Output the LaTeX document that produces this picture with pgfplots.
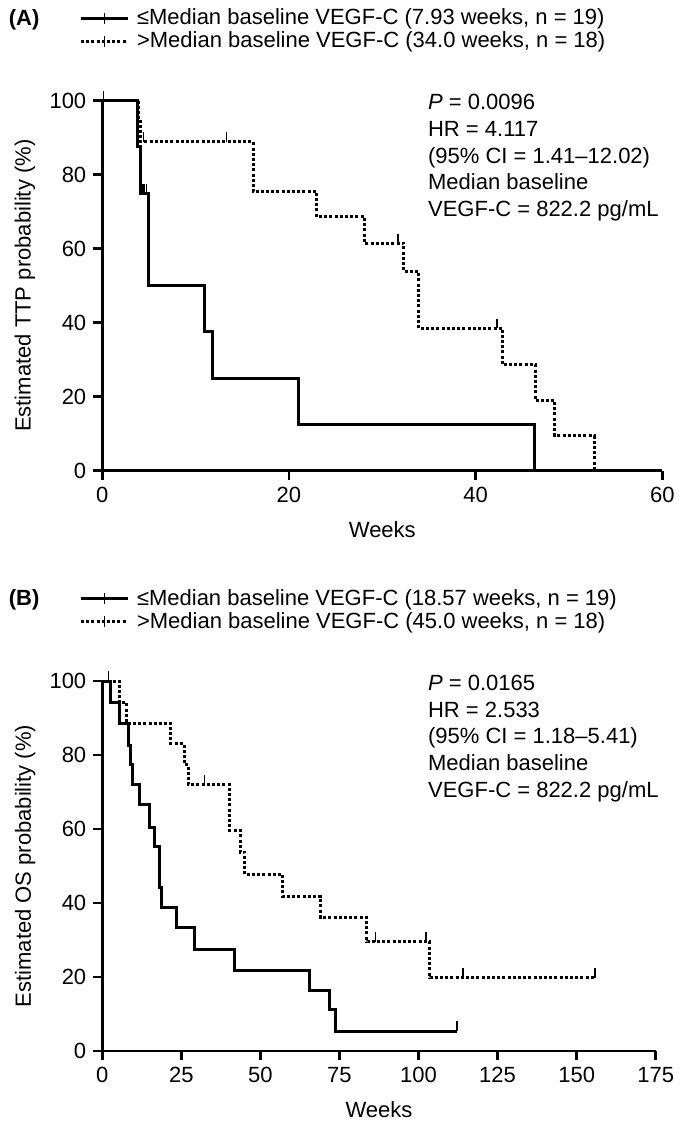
\documentclass[border=0pt]{standalone}
\usepackage{fontspec}
\setmainfont{Liberation Sans}
\usepackage{pgfplots}
\pgfplotsset{compat=1.18}
\newcommand\fs{\fontsize{11}{13.3}\selectfont}
\pgfdeclareplotmark{cens}{\pgfpathmoveto{\pgfpoint{0pt}{0pt}}\pgfpathlineto{\pgfpoint{0pt}{4.8pt}}\pgfusepathqstroke}
\pgfplotsset{
  kmaxis/.style={
    scale only axis, height=185pt,
    axis lines=left, axis line style={line width=1.4pt,-},
    tick style={line width=1.4pt, black}, major tick length=4.5pt, tick align=outside,
    ymin=0, ymax=100, xmin=0, ytick={0,20,...,100},
    /pgf/number format/assume math mode=true,
    tick label style={font=\fs},
    label style={font=\fs},
    clip=false,
    xlabel style={at={(axis description cs:0.5,0)}, anchor=center, yshift=-29.5pt},
    legend cell align=left,
    legend style={draw=none, fill=none, font=\fs, inner sep=0pt, row sep=0pt,
      column sep=3pt, nodes={inner sep=1pt}, anchor=north west},
    legend image code/.code={
      \draw[#1] (0pt,0pt) -- (23.3pt,0pt);
      \draw[solid, line width=0.7pt] (11.65pt,-2.6pt) -- (11.65pt,2.6pt);
    },
  },
  solidkm/.style={black, line width=1.5pt, const plot, mark=none},
  dotkm/.style={black, line width=1.5pt, const plot, mark=none, dash pattern=on 1.5pt off 1.1pt},
  censm/.style={black, only marks, mark=cens, mark options={solid, line width=0.7pt}, forget plot},
}
\begin{document}
\begin{tikzpicture}[font=\fs]
\useasboundingbox (0,0) rectangle (342.5pt,-564pt);
% ---------------- Panel A ----------------
\node[anchor=base west, inner sep=0, font=\fs\bfseries] at (4.2pt,-12.7pt) {(A)};
\begin{axis}[kmaxis, at={(51.15pt,-235.35pt)}, anchor=south west, width=280pt,
  xmax=60, xtick={0,20,40,60},
  xlabel={Weeks}, ylabel={Estimated TTP probability (\%)},
  ylabel style={at={(axis description cs:-0.138,0.5)}, anchor=center},
  legend style={at={(-0.0416,1.2546)}}]
\addplot[solidkm] coordinates {(0,100)(3.8,87.5)(4.1,75)(5.0,50)(10.9,37.5)(11.8,25)(21.0,12.5)(46.3,0)};
\addlegendentry{≤Median baseline VEGF-C (7.93 weeks, n = 19)}
\addplot[dotkm] coordinates {(0,100)(3.9,94.4)(4.1,88.9)(16.15,75.4)(23.0,68.6)(28.1,61.5)(32.3,53.8)(33.9,38.5)(42.9,28.6)(46.4,19.0)(48.5,9.4)(52.7,0)};
\addlegendentry{>Median baseline VEGF-C (34.0 weeks, n = 18)}
\addplot[censm] coordinates {(0.15,100)(4.35,75)(4.55,75)(4.75,75)};
\addplot[censm] coordinates {(4.4,88.9)(13.3,88.9)(31.7,61.5)(42.3,38.5)};
\end{axis}
\node[anchor=base west, inner sep=0] at (213.85pt,-55pt) {\textit{P} = 0.0096};
\node[anchor=base west, inner sep=0] at (213.85pt,-68.3pt) {HR = 4.117};
\node[anchor=base west, inner sep=0] at (213.85pt,-81.6pt) {(95\% CI = 1.41–12.02)};
\node[anchor=base west, inner sep=0] at (213.85pt,-94.9pt) {Median baseline};
\node[anchor=base west, inner sep=0] at (213.85pt,-108.2pt) {VEGF-C = 822.2 pg/mL};
% ---------------- Panel B ----------------
\node[anchor=base west, inner sep=0, font=\fs\bfseries] at (4.2pt,-302.85pt) {(B)};
\begin{axis}[kmaxis, at={(51.15pt,-525.5pt)}, anchor=south west, width=276.7pt,
  xmax=175, xtick={0,25,...,175},
  xlabel={Weeks}, ylabel={Estimated OS probability (\%)},
  ylabel style={at={(axis description cs:-0.1395,0.5)}, anchor=center},
  legend style={at={(-0.0421,1.2546)}}]
\addplot[solidkm] coordinates {(0,100)(2.6,94.2)(5.4,88.4)(8.2,82.7)(9.0,77.4)(9.6,72.0)(11.9,66.6)(14.9,60.5)(16.5,55.3)(18.2,44.1)(18.8,38.7)(23.5,33.3)(29.3,27.5)(41.8,21.8)(65.4,16.4)(72.0,11.3)(73.7,5.4)(112.2,5.4)};
\addlegendentry{≤Median baseline VEGF-C (18.57 weeks, n = 19)}
\addplot[dotkm] coordinates {(0,100)(5.4,94.2)(7.7,88.6)(21.7,83.0)(25.9,77.4)(27.2,72.0)(40.2,59.6)(43.6,53.7)(45.1,47.7)(57.1,41.7)(69.1,36.0)(83.6,29.5)(103.5,19.8)(155.8,19.8)};
\addlegendentry{>Median baseline VEGF-C (45.0 weeks, n = 18)}
\addplot[censm] coordinates {(1.9,100)(112.2,5.4)};
\addplot[censm] coordinates {(32.3,72.0)(86.3,29.5)(102.4,29.5)(114.0,19.8)(155.8,19.8)};
\end{axis}
\node[anchor=base west, inner sep=0] at (213.85pt,-345.35pt) {\textit{P} = 0.0165};
\node[anchor=base west, inner sep=0] at (213.85pt,-358.65pt) {HR = 2.533};
\node[anchor=base west, inner sep=0] at (213.85pt,-371.95pt) {(95\% CI = 1.18–5.41)};
\node[anchor=base west, inner sep=0] at (213.85pt,-385.25pt) {Median baseline};
\node[anchor=base west, inner sep=0] at (213.85pt,-398.55pt) {VEGF-C = 822.2 pg/mL};
\end{tikzpicture}
\end{document}
